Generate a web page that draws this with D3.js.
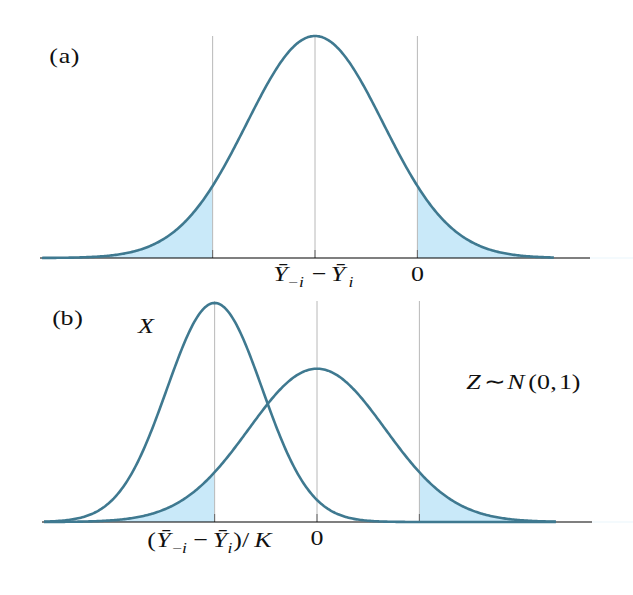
<!DOCTYPE html>
<html>
<head>
<meta charset="utf-8">
<script src="https://cdn.jsdelivr.net/npm/d3@7"></script>
<style>
  body { margin: 0; background: #fff; }
  text { font-family: "Liberation Serif", "Times New Roman", serif; fill: #111; }
  .it { font-style: italic; }
</style>
</head>
<body>
<svg width="633" height="595"></svg>
<script>
// standardised x positions of the vertical guides (-1.5 sd, mean, +1.5 sd)
const guides = [-1.5, 0, 1.5];
const curveExtent = [-4, 3.5];
// panel (a): one normal, mean 0, sd 1 ; shaded tails beyond the outer guides
const curvesA = [{ name: 'Ybar', mean: 0, sd: 1 }];
// panel (b): X (narrow, centred on the left guide) and Z ~ N(0,1)
const curvesB = [
  { name: 'X', mean: -1.5, sd: 0.7 },
  { name: 'Z', mean: 0, sd: 1 }
];
const shadeA = [[-4, -1.5], [1.5, 3.5]];
const shadeB = [[-4, -1.5], [1.5, 3.5]];

const svg = d3.select('svg');
const lineCol = '#3f7990';
const fillCol = '#c9e9f9';

function pdf(x, m, s) {
  const z = (x - m) / s;
  return Math.exp(-0.5 * z * z) / (s * Math.sqrt(2 * Math.PI));
}

function panel(cfg) {
  const g = svg.append('g');
  const x = d3.scaleLinear().domain([-4, 4]).range(cfg.xRange);
  const y = d3.scaleLinear().domain([0, cfg.yMax]).range([cfg.base, cfg.top]);
  const pts = d3.range(curveExtent[0], curveExtent[1] + 1e-9, 0.02);

  // shaded tails of the reference normal
  const ref = cfg.curves[cfg.curves.length - 1];
  cfg.shade.forEach(([a, b]) => {
    const seg = pts.filter(v => v >= a - 1e-9 && v <= b + 1e-9);
    g.append('path')
      .datum(seg)
      .attr('fill', fillCol)
      .attr('d', d3.area().x(d => x(d)).y0(cfg.base).y1(d => y(pdf(d, ref.mean, ref.sd))));
  });

  // vertical guides
  g.selectAll('.guide').data(guides).join('line')
    .attr('x1', d => x(d)).attr('x2', d => x(d))
    .attr('y1', cfg.top).attr('y2', cfg.base)
    .attr('stroke', '#b8b8b8').attr('stroke-width', 1);
  g.selectAll('.tick').data(guides).join('line')
    .attr('x1', d => x(d)).attr('x2', d => x(d))
    .attr('y1', cfg.base - 8).attr('y2', cfg.base)
    .attr('stroke', '#666').attr('stroke-width', 1);

  // baseline
  g.append('line')
    .attr('x1', x(-4) - 2).attr('x2', x(4.03))
    .attr('y1', cfg.base).attr('y2', cfg.base)
    .attr('stroke', '#000').attr('stroke-width', 1.2);
  g.append('line')
    .attr('x1', x(4.03)).attr('x2', 633)
    .attr('y1', cfg.base).attr('y2', cfg.base)
    .attr('stroke', '#eaf5fc').attr('stroke-width', 1.2);

  // density curves
  cfg.curves.forEach(c => {
    g.append('path')
      .datum(pts)
      .attr('fill', 'none')
      .attr('stroke', lineCol)
      .attr('stroke-width', 2.6)
      .attr('d', d3.line().x(d => x(d)).y(d => y(pdf(d, c.mean, c.sd))));
  });
  return { g, x };
}

// math label: each glyph centred on its own slot, widened a bit (TeX-like)
// parts = [text, italic?, centreX, baselineShift, size]
function mathText(y0, parts) {
  const g = svg.append('g');
  parts.forEach(p => {
    const t = g.append('text')
      .attr('text-anchor', 'middle')
      .attr('font-size', p[4] || 22)
      .attr('transform', `translate(${p[2]},${y0 + (p[3] || 0)}) scale(1.18,1)`)
      .text(p[0]);
    if (p[1]) t.attr('class', 'it');
  });
  return g;
}

const peakN = pdf(0, 0, 1);

// ---- panel (a)
const A = panel({ xRange: [42, 588], base: 258, top: 36, yMax: peakN,
  curves: curvesA, shade: shadeA });
mathText(63, [['(', 0, 53.5], ['a', 0, 64.5], [')', 0, 75]]);
mathText(281, [
  ['Ȳ', 1, 280.5], ['−', 0, 293, 6, 15], ['i', 1, 301.5, 6, 15],
  ['−', 0, 319], ['Ȳ', 1, 338], ['i', 1, 351, 6, 15]
]);
mathText(281, [['0', 0, A.x(1.5)]]);

// ---- panel (b)
const B = panel({ xRange: [44, 590], base: 522, top: 301, yMax: peakN * 222 / 154,
  curves: curvesB, shade: shadeB });
mathText(325, [['(', 0, 56.5], ['b', 0, 67], [')', 0, 78.5]]);
mathText(333, [['X', 1, 146]]);
mathText(389, [
  ['Z', 1, 473.5], ['∼', 0, 494.5], ['N', 1, 516], ['(', 0, 532.5], ['0', 0, 543.5],
  [',', 0, 553.5], ['1', 0, 565.5], [')', 0, 576]
]);
mathText(547, [
  ['(', 0, 151.5], ['Ȳ', 1, 163.5], ['−', 0, 177, 6, 15], ['i', 1, 184.5, 6, 15],
  ['−', 0, 200.5], ['Ȳ', 1, 220], ['i', 1, 230, 6, 15], [')', 0, 237.5],
  ['/', 0, 245.5], ['K', 1, 263]
]);
mathText(545, [['0', 0, B.x(0)]]);
</script>
</body>
</html>
